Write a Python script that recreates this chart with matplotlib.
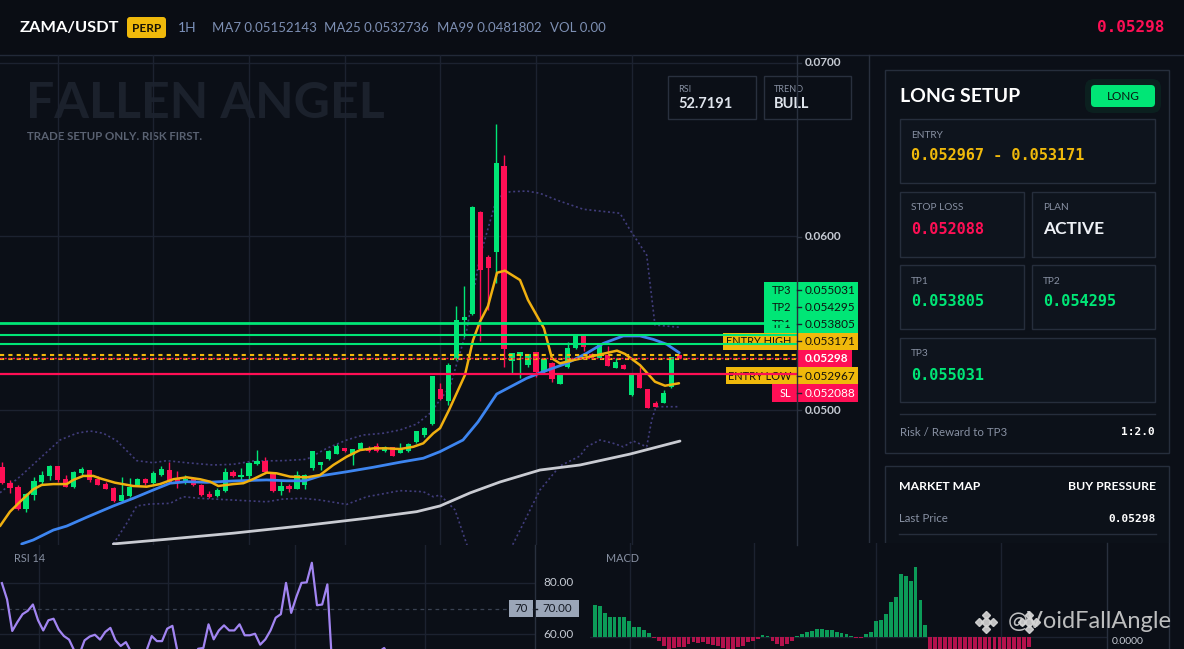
import matplotlib
matplotlib.use("Agg")
import matplotlib.pyplot as plt
from matplotlib.patches import Rectangle, FancyBboxPatch

# ---------------------------------------------------------------- data
symbol = "ZAMA/USDT"
header_items = ["MA7 0.05152143", "MA25 0.0532736", "MA99 0.0481802", "VOL 0.00"]
last_price = 0.05298

opens = [0.04673, 0.04578, 0.04554, 0.04429, 0.04510, 0.04587, 0.04621, 0.04677, 0.04602, 0.04554,
         0.04637, 0.04654, 0.04602, 0.04573, 0.04552, 0.04475, 0.04504, 0.04568, 0.04602, 0.04578,
         0.04625, 0.04654, 0.04602, 0.04578, 0.04602, 0.04568, 0.04516, 0.04504, 0.04535, 0.04644,
         0.04612, 0.04620, 0.04689, 0.04706, 0.04631, 0.04535, 0.04564, 0.04545, 0.04565, 0.04664,
         0.04683, 0.04716, 0.04746, 0.04779, 0.04741, 0.04773, 0.04779, 0.04793, 0.04764, 0.04785,
         0.04754, 0.04765, 0.04817, 0.04856, 0.04919, 0.05119, 0.05054, 0.05292, 0.05519, 0.05553,
         0.06143, 0.05884, 0.05912, 0.06406, 0.05284, 0.05313, 0.05259, 0.05333, 0.05221, 0.05269,
         0.05150, 0.05250, 0.05359, 0.05428, 0.05321, 0.05298, 0.05317, 0.05244, 0.05259, 0.05086,
         0.05202, 0.05119, 0.05039, 0.05042, 0.05131, 0.05317]
highs = [0.04702, 0.04597, 0.04568, 0.04523, 0.04616, 0.04650, 0.04683, 0.04680, 0.04625, 0.04650,
         0.04673, 0.04656, 0.04620, 0.04587, 0.04554, 0.04612, 0.04606, 0.04610, 0.04610, 0.04648,
         0.04677, 0.04702, 0.04648, 0.04625, 0.04606, 0.04572, 0.04535, 0.04549, 0.04664, 0.04654,
         0.04664, 0.04702, 0.04769, 0.04731, 0.04635, 0.04597, 0.04573, 0.04650, 0.04630, 0.04764,
         0.04702, 0.04769, 0.04804, 0.04781, 0.04775, 0.04817, 0.04793, 0.04808, 0.04793, 0.04788,
         0.04808, 0.04812, 0.04881, 0.04904, 0.05198, 0.05154, 0.05269, 0.05599, 0.05715, 0.06176,
         0.06146, 0.05893, 0.06648, 0.06469, 0.05330, 0.05334, 0.05325, 0.05335, 0.05298, 0.05278,
         0.05213, 0.05394, 0.05430, 0.05430, 0.05327, 0.05384, 0.05369, 0.05298, 0.05263, 0.05204,
         0.05250, 0.05121, 0.05052, 0.05115, 0.05307, 0.05323]
lows = [0.04573, 0.04523, 0.04424, 0.04414, 0.04481, 0.04568, 0.04597, 0.04583, 0.04554, 0.04552,
        0.04625, 0.04583, 0.04566, 0.04543, 0.04471, 0.04473, 0.04500, 0.04562, 0.04568, 0.04573,
        0.04620, 0.04581, 0.04552, 0.04573, 0.04562, 0.04506, 0.04495, 0.04497, 0.04529, 0.04616,
        0.04597, 0.04597, 0.04683, 0.04639, 0.04529, 0.04510, 0.04529, 0.04543, 0.04545, 0.04654,
        0.04654, 0.04712, 0.04745, 0.04760, 0.04683, 0.04769, 0.04760, 0.04760, 0.04760, 0.04735,
        0.04750, 0.04760, 0.04812, 0.04846, 0.04912, 0.05058, 0.05029, 0.05288, 0.05423, 0.05548,
        0.05399, 0.05576, 0.05733, 0.05250, 0.05211, 0.05186, 0.05250, 0.05192, 0.05211, 0.05163,
        0.05148, 0.05244, 0.05352, 0.05342, 0.05292, 0.05292, 0.05253, 0.05240, 0.05235, 0.05081,
        0.05125, 0.05011, 0.05016, 0.05039, 0.05125, 0.05298]
closes = [0.04578, 0.04552, 0.04429, 0.04516, 0.04591, 0.04625, 0.04677, 0.04597, 0.04558, 0.04644,
          0.04660, 0.04597, 0.04568, 0.04545, 0.04475, 0.04510, 0.04558, 0.04602, 0.04578, 0.04635,
          0.04660, 0.04587, 0.04587, 0.04602, 0.04568, 0.04510, 0.04500, 0.04539, 0.04644, 0.04620,
          0.04625, 0.04696, 0.04706, 0.04644, 0.04535, 0.04562, 0.04545, 0.04625, 0.04627, 0.04764,
          0.04702, 0.04764, 0.04793, 0.04764, 0.04773, 0.04812, 0.04765, 0.04764, 0.04788, 0.04737,
          0.04779, 0.04804, 0.04879, 0.04898, 0.05196, 0.05065, 0.05259, 0.05519, 0.05538, 0.06172,
          0.05807, 0.05820, 0.06425, 0.05351, 0.05327, 0.05333, 0.05323, 0.05221, 0.05292, 0.05177,
          0.05211, 0.05359, 0.05428, 0.05365, 0.05298, 0.05375, 0.05255, 0.05278, 0.05236, 0.05202,
          0.05128, 0.05013, 0.05019, 0.05096, 0.05304, 0.05298]

# moving averages / bands (candle index, price)
ma7_idx = [-0.25, 1.0, 2.26, 3.93, 4.98, 6.44, 8.12, 8.95, 10.2, 11.46, 12.3, 14.18, 16.47, 18.15, 19.82,
           21.49, 23.17, 24.84, 26.1, 27.14, 29.02, 30.28, 31.53, 33.21, 34.47, 36.14, 38.23, 39.9, 41.57,
           43.25, 44.92, 46.59, 48.27, 49.94, 51.61, 52.86, 54.12, 54.96, 56.09, 58.09, 59.1, 59.97, 60.98,
           62.11, 63.11, 65.0, 66.0, 68.0, 69.0, 70.0, 72.14, 74.15, 77.16, 78.17, 80.05, 81.93, 83.19, 84.94]
ma7_val = [0.04331, 0.04414, 0.04471, 0.04543, 0.04568, 0.04573, 0.04573, 0.04597, 0.04620, 0.04620,
           0.04606, 0.04581, 0.04562, 0.04558, 0.04573, 0.04601, 0.04612, 0.04601, 0.04587, 0.04562,
           0.04573, 0.04578, 0.04602, 0.04639, 0.04635, 0.04616, 0.04612, 0.04625, 0.04683, 0.04731,
           0.04769, 0.04779, 0.04779, 0.04775, 0.04788, 0.04808, 0.04866, 0.04895, 0.05000, 0.05202,
           0.05403, 0.05509, 0.05599, 0.05791, 0.05803, 0.05749, 0.05634, 0.05471, 0.05298, 0.05269,
           0.05292, 0.05311, 0.05342, 0.05323, 0.05259, 0.05163, 0.05140, 0.05154]
ma25_idx = [2.47, 3.93, 6.44, 8.12, 10.63, 13.97, 16.47, 18.98, 21.08, 23.17, 25.68, 29.02, 33.21, 35.72,
            38.02, 39.9, 43.25, 46.59, 49.94, 52.86, 54.96, 57.84, 59.72, 60.73, 62.07, 65.83, 67.92,
            70.85, 73.36, 75.45, 77.95, 80.05, 81.72, 83.4, 84.98]
ma25_val = [0.04228, 0.04251, 0.04308, 0.04331, 0.04382, 0.04447, 0.04491, 0.04539, 0.04578, 0.04587,
            0.04583, 0.04591, 0.04597, 0.04592, 0.04592, 0.04620, 0.04644, 0.04670, 0.04699, 0.04722,
            0.04760, 0.04827, 0.04931, 0.05000, 0.05092, 0.05183, 0.05221, 0.05269, 0.05327, 0.05384,
            0.05427, 0.05427, 0.05407, 0.05379, 0.05330]
ma99_idx = [13.97, 20.67, 29.02, 37.39, 45.76, 52.03, 54.96, 58.72, 62.48, 67.5, 72.52, 78.8, 85.07]
ma99_val = [0.04228, 0.04255, 0.04290, 0.04331, 0.04376, 0.04414, 0.04447, 0.04522, 0.04585, 0.04654,
            0.04683, 0.04746, 0.04821]
bb_up_idx = [-0.25, 2.26, 4.77, 7.28, 9.37, 11.04, 12.71, 14.39, 16.9, 18.98, 20.67, 23.17, 26.51, 29.02,
             31.53, 35.3, 38.23, 40.74, 43.25, 45.33, 47.84, 49.94, 52.03, 53.7, 54.96, 56.21, 58.31,
             59.97, 62.07, 63.74, 65.83, 67.5, 69.6, 72.94, 77.54, 78.8, 80.89, 81.93, 84.98]
bb_up_val = [0.04523, 0.04616, 0.04722, 0.04827, 0.04866, 0.04879, 0.04866, 0.04823, 0.04708, 0.04696,
             0.04708, 0.04696, 0.04683, 0.04687, 0.04706, 0.04708, 0.04716, 0.04779, 0.04827, 0.04856,
             0.04866, 0.04885, 0.04919, 0.04981, 0.05058, 0.05134, 0.05461, 0.05884, 0.06220, 0.06258,
             0.06262, 0.06249, 0.06210, 0.06157, 0.06134, 0.06038, 0.05893, 0.05490, 0.05477]
bb_lo_idx = [13.97, 15.65, 16.9, 18.57, 21.08, 22.75, 24.84, 29.02, 33.21, 35.3, 37.8, 39.9, 43.25,
             45.76, 49.94, 52.86, 54.12, 54.96, 56.84, 58.47, 63.11, 65.0, 67.5, 70.0, 72.52, 73.36,
             75.03, 76.7, 77.95, 79.21, 80.89, 81.52, 82.06, 85.07]
bb_lo_val = [0.04228, 0.04347, 0.04447, 0.04458, 0.04462, 0.04500, 0.04491, 0.04481, 0.04471, 0.04487,
             0.04491, 0.04481, 0.04456, 0.04500, 0.04535, 0.04529, 0.04500, 0.04510, 0.04424, 0.04205,
             0.04135, 0.04308, 0.04539, 0.04677, 0.04735, 0.04788, 0.04827, 0.04808, 0.04788, 0.04821,
             0.04788, 0.04942, 0.05019, 0.05019]

# trade levels
tp3, tp2, tp1 = 0.055031, 0.054295, 0.053805
entry_high, entry_low = 0.053171, 0.052967
stop_loss = 0.052088
price_ticks = [0.05, 0.06, 0.07]

# RSI(14)
rsi = [80.0, 73.6, 61.2, 64.7, 67.8, 69.1, 71.6, 65.4, 61.4, 65.4, 66.0, 61.7, 59.2, 57.8, 53.5,
       52.0, 57.5, 59.0, 59.7, 57.8, 60.8, 62.4, 57.5, 55.3, 56.8, 53.0, 50.0, 51.0, 53.5, 59.2,
       57.2, 57.2, 62.1, 63.2, 53.0, 48.0, 47.0, 50.0, 54.2, 54.5, 63.8, 57.9, 61.4, 63.4, 61.4,
       61.4, 63.8, 59.5, 59.5, 60.1, 55.8, 57.9, 61.4, 66.4, 67.8, 80.1, 68.3, 74.6, 80.1, 80.3,
       88.0, 71.3, 71.6, 79.5, 45.0, 41.0, 39.0, 42.0, 45.0, 47.0, 46.0, 49.0, 51.0, 53.0, 54.5,
       51.0, 48.0, 46.0, 48.0, 45.0, 42.0, 40.0, 43.0, 47.0, 52.0, 52.7]
rsi_ticks = [60, 80]

# MACD histogram
macd_hist = [6.5e-5, 6.3e-5, 4.9e-5, 4.1e-5, 4.1e-5, 4.1e-5, 4.1e-5, 3.3e-5, 2.1e-5, 2.0e-5,
             1.5e-5, 0.9e-5, -0.1e-5, -0.8e-5, -1.7e-5, -2.7e-5, -2.1e-5, -1.9e-5, -1.9e-5, -1.3e-5,
             -1.0e-5, -1.2e-5, -1.0e-5, -1.3e-5, -1.5e-5, -1.8e-5, -2.1e-5, -2.5e-5, -2.7e-5, -2.0e-5,
             -1.7e-5, -1.0e-5, -0.8e-5, -0.3e-5, 0.5e-5, 0.2e-5, -0.8e-5, -1.3e-5, -1.7e-5, -1.3e-5,
             -0.8e-5, 0.3e-5, 0.7e-5, 1.0e-5, 1.3e-5, 1.7e-5, 1.7e-5, 1.5e-5, 1.5e-5, 1.1e-5,
             0.9e-5, 0.7e-5, 0.2e-5, -0.2e-5, -0.2e-5, 0.7e-5, 1.1e-5, 3.3e-5, 3.5e-5, 4.7e-5,
             7.0e-5, 8.1e-5, 12.7e-5, 12.3e-5, 11.3e-5, 14.1e-5, 7.5e-5, 2.5e-5,
             -3.0e-5, -3.3e-5, -3.7e-5, -3.9e-5, -4.0e-5, -4.1e-5, -4.3e-5, -4.4e-5, -4.5e-5, -4.7e-5,
             -4.7e-5, -4.5e-5, -4.4e-5, -4.3e-5, -4.1e-5, -4.0e-5, -3.9e-5, -3.7e-5, -3.3e-5, -3.0e-5,
             -2.0e-5]

watermark_handle = "@VoidFallAngle"

# ---------------------------------------------------------------- style
W, H = 1184, 649
BG = "#0b0f17"
TOPBG = "#0a0d14"
GRID = "#1c2230"
LINE = "#29303e"
GREEN = "#00e676"
RED = "#ff0f55"
YELLOW = "#f0b90b"
GRAY = "#8790a2"
UI = ["Lato", "DejaVu Sans"]
MONO = "DejaVu Sans Mono"

fig = plt.figure(figsize=(W / 100, H / 100), dpi=100, facecolor=BG)


def px_axes(x0, y0, x1, y1, z):
    a = fig.add_axes([x0 / W, 1 - y1 / H, (x1 - x0) / W, (y1 - y0) / H])
    a.set_zorder(z)
    a.patch.set_alpha(0)
    for s in a.spines.values():
        s.set_visible(False)
    a.tick_params(length=0, labelbottom=False, labelleft=False)
    return a


ov = fig.add_axes([0, 0, 1, 1])
ov.set_xlim(0, W)
ov.set_ylim(H, 0)
ov.axis("off")
ov.set_zorder(1)

fg = fig.add_axes([0, 0, 1, 1])
fg.set_xlim(0, W)
fg.set_ylim(H, 0)
fg.axis("off")
fg.set_zorder(8)


def box(a, x0, y0, x1, y1, fc="none", ec=LINE, lw=1.0, z=1):
    a.add_patch(Rectangle((x0, y0), x1 - x0, y1 - y0, facecolor=fc, edgecolor=ec, lw=lw, zorder=z))


# ---------------------------------------------------------------- top bar
box(ov, 0, 0, W, 55, fc=TOPBG, ec="none", z=0)
ov.plot([0, W], [55, 55], color="#222938", lw=1, zorder=1)
ov.text(20, 28, symbol, color="white", fontsize=11.8, fontweight="bold", va="center", family=UI)
ov.add_patch(FancyBboxPatch((127, 17), 39, 21, boxstyle="round,pad=0,rounding_size=3",
                            facecolor=YELLOW, edgecolor="none", zorder=2))
ov.text(146.5, 28, "PERP", color="#1a1405", fontsize=8.5, fontweight="bold", ha="center", va="center",
        family=UI, zorder=3)
ov.text(178, 28, "1H", color="#7d93bd", fontsize=10, va="center", family=UI)
for xx, t in zip([212, 324, 437, 550], header_items):
    ov.text(xx, 28, t, color="#7d8fb3", fontsize=9.5, va="center", family=UI)
ov.text(1164, 28, f"{last_price:.5f}", color=RED, fontsize=11.5, fontweight="bold", family=MONO,
        ha="right", va="center")

# watermark
ov.text(26, 103, "FALLEN ANGEL", color="#1b212c", fontsize=36, fontweight="bold", va="center",
        family=UI, zorder=0.5)
ov.text(27, 137, "TRADE SETUP ONLY. RISK FIRST.", color="#5a6272", fontsize=8.3, fontweight="bold",
        va="center", family=UI, zorder=0.5)

# ---------------------------------------------------------------- main chart
ax = px_axes(0, 55, 797, 545, 2)
ax.set_xlim(-0.25, 99.75)
ax.set_ylim(0.042219, 0.070461)
ax.set_xticks([7, 19, 31, 43, 55, 67, 79])
ax.set_yticks(price_ticks)
ax.grid(True, color=GRID, lw=1)
ax.set_axisbelow(True)

idx = list(range(len(opens)))
cols = [GREEN if c >= o else RED for o, c in zip(opens, closes)]
ax.vlines(idx, lows, highs, colors=cols, lw=1.0, zorder=3)
bottoms = [min(o, c) for o, c in zip(opens, closes)]
heights = [max(abs(c - o), 0.00005) for o, c in zip(opens, closes)]
ax.bar(idx, heights, bottom=bottoms, width=0.66, color=cols, zorder=4)

dot = (0, (1.2, 1.6))
ax.plot(bb_up_idx, bb_up_val, color="#413d7c", lw=1.2, ls=dot, zorder=2)
ax.plot(bb_lo_idx, bb_lo_val, color="#413d7c", lw=1.2, ls=dot, zorder=2)
ax.plot(ma99_idx, ma99_val, color="#c9cbd2", lw=2, zorder=5, solid_capstyle="round")
ax.plot(ma25_idx, ma25_val, color="#3d85f0", lw=2, zorder=5, solid_capstyle="round")
ax.plot(ma7_idx, ma7_val, color="#f0b010", lw=1.8, zorder=6, solid_capstyle="round")

ax.axhline(tp3, color=GREEN, lw=2.0, zorder=7)
ax.axhline(tp2, color=GREEN, lw=1.5, zorder=7)
ax.axhline(tp1, color=GREEN, lw=1.5, zorder=7)
ax.axhline(entry_high, color=YELLOW, lw=1.5, ls=(0, (2, 2)), zorder=7)
ax.axhline(entry_low, color=YELLOW, lw=1.5, ls=(0, (2, 2)), zorder=7)
ax.axhline(last_price, color=RED, lw=1.0, ls=(0, (1.5, 1.5)), zorder=8)
ax.axhline(stop_loss, color=RED, lw=1.6, zorder=7)

# price axis
ov.plot([869, 869], [55, 545], color=LINE, lw=1, zorder=1)
fg.plot([796.5, 796.5], [55, 545], color=LINE, lw=1, zorder=1)
for p, yy in zip(price_ticks, [410, 237, 63]):
    ov.text(805, yy, f"{p:.4f}", color="#c5cad3", fontsize=8.5, fontweight="bold", va="center",
            family=UI)
    ov.plot([797, 801], [yy, yy], color=LINE, lw=1)

# level labels (stacked)
rows = [
    ("TP3", tp3, 764, 858, GREEN, "#0d1410"),
    ("TP2", tp2, 764, 858, GREEN, "#0d1410"),
    ("TP1", tp1, 764, 858, GREEN, "#0d1410"),
    ("ENTRY HIGH", entry_high, 723, 858, YELLOW, "#16120a"),
    (None, last_price, 797, 852, RED, "white"),
    ("ENTRY LOW", entry_low, 726, 858, YELLOW, "#16120a"),
    ("SL", stop_loss, 772, 858, RED, "white"),
]
y0 = 281.5
rh = 17.1
for k, (name, val, xa, xb, col, tc) in enumerate(rows):
    ya = y0 + k * rh
    yc = ya + rh / 2
    box(ov, xa, ya, xb, ya + rh + 0.3, fc=col, ec="none", z=2)
    if name:
        ov.text(791, yc + 0.5, name, color=tc, fontsize=7.9, ha="right", va="center", family=UI, zorder=3)
        ov.text(805, yc + 0.5, f"{val:.6f}", color=tc, fontsize=8.5, ha="left", va="center", family=UI,
                zorder=3)
        fg.plot([797, 801], [yc, yc], color="#1a2230", lw=1)
    else:
        ov.text(805, yc + 0.5, f"{val:.5f}", color=tc, fontsize=8.5, fontweight="bold", ha="left",
                va="center", family=UI, zorder=3)

# RSI / TREND mini boxes
for xa, xb, lab, val in [(668, 756, "RSI", "52.7191"), (764, 851, "TREND", "BULL")]:
    box(ov, xa, 76, xb, 119, fc="none", ec=LINE, z=2)
    ov.text(xa + 10, 89, lab, color=GRAY, fontsize=6.5, va="center", family=UI, zorder=3)
    ov.text(xa + 10, 104, val, color="#dfe4ec", fontsize=10.5, fontweight="bold", va="center",
            family=UI, zorder=3)

# ---------------------------------------------------------------- right panel
box(ov, 885, 70, 1169, 453, fc="#0c1119", ec="#262e3c", z=1)
ov.text(900, 96, "LONG SETUP", color="white", fontsize=14, fontweight="bold", va="center", family=UI,
        zorder=3)
ov.add_patch(FancyBboxPatch((1085, 79), 76, 34, boxstyle="round,pad=0,rounding_size=9",
                            facecolor=GREEN, alpha=0.07, edgecolor="none", zorder=2))
ov.add_patch(FancyBboxPatch((1091, 85), 64, 22, boxstyle="round,pad=0,rounding_size=4",
                            facecolor=GREEN, edgecolor="none", zorder=3))
ov.text(1123, 96.5, "LONG", color="#08170f", fontsize=8.5, ha="center", va="center", family=UI, zorder=4)

cards = [
    (900, 119, 1155, 183, "ENTRY", f"{entry_low:.6f} - {entry_high:.6f}", YELLOW, True),
    (900, 192, 1024, 257, "STOP LOSS", f"{stop_loss:.6f}", RED, True),
    (1032, 192, 1155, 257, "PLAN", "ACTIVE", "#eef1f6", False),
    (900, 265, 1024, 329, "TP1", f"{tp1:.6f}", GREEN, True),
    (1032, 265, 1155, 329, "TP2", f"{tp2:.6f}", GREEN, True),
    (900, 338, 1155, 402, "TP3", f"{tp3:.6f}", GREEN, True),
]
for xa, ya, xb, yb, lab, val, col, mono in cards:
    box(ov, xa, ya, xb, yb, fc="#0e141d", ec="#262e3c", z=2)
    ov.text(xa + 11, ya + 16, lab, color=GRAY, fontsize=7.3, va="center", family=UI, zorder=3)
    if mono:
        ov.text(xa + 11, ya + 37, val, color=col, fontsize=11, fontweight="bold", va="center",
                family=MONO, zorder=3)
    else:
        ov.text(xa + 11, ya + 37, val, color=col, fontsize=12.5, fontweight="bold", va="center",
                family=UI, zorder=3)
ov.plot([900, 1155], [414, 414], color="#262e3c", lw=1, zorder=3)
ov.text(900, 432, "Risk / Reward to TP3", color=GRAY, fontsize=8.3, va="center", family=UI, zorder=3)
ov.text(1155, 432, "1:2.0", color="white", fontsize=8, fontweight="bold", ha="right", va="center",
        family=MONO, zorder=3)

box(ov, 885, 466, 1169, 600, fc="#0c1119", ec="#262e3c", z=1)
ov.text(899, 487, "MARKET MAP", color="white", fontsize=8.8, fontweight="bold", va="center", family=UI,
        zorder=3)
ov.text(1156, 487, "BUY PRESSURE", color="white", fontsize=8.8, fontweight="bold", ha="right",
        va="center", family=UI, zorder=3)
ov.text(899, 519, "Last Price", color=GRAY, fontsize=8.3, va="center", family=UI, zorder=3)
ov.text(1156, 519, f"{last_price:.5f}", color="white", fontsize=8, fontweight="bold", ha="right",
        va="center", family=MONO, zorder=3)
ov.plot([899, 1156], [534, 534], color="#262e3c", lw=1, zorder=3)

# lower panels background
box(ov, 0, 545, 590, H, fc=BG, ec="none", z=4)
box(ov, 590, 543, W, H, fc=BG, ec="none", z=4)

# ---------------------------------------------------------------- RSI panel
ra = px_axes(0, 545, 535, 649, 6)
ra.set_xlim(-0.37, 103.2)
ra.set_ylim(54.1, 95.0)
ra.set_xticks([7.2, 32.2, 56.7, 81.9])
ra.set_yticks(rsi_ticks)
ra.grid(True, color=GRID, lw=1)
ra.set_axisbelow(True)
ra.axhline(70, color="#3a4252", lw=0.9, ls=(0, (3, 3)), zorder=1)
ra.plot(range(len(rsi)), rsi, color="#a285f2", lw=1.6, zorder=3)
fg.text(14, 559, "RSI 14", color=GRAY, fontsize=7.8, va="center", family=UI)
fg.plot([535, 535], [545, H], color=LINE, lw=1)
for v, yy in [(80, 583), (60, 634)]:
    fg.text(543, yy, f"{v:.2f}", color="#c5cad3", fontsize=8.5, va="center", family=UI)
box(fg, 509, 600, 533, 617, fc="#9ba6b8", ec="none", z=2)
box(fg, 536, 600, 579, 617, fc="#9ba6b8", ec="none", z=2)
fg.text(521, 608.5, "70", color="#151a24", fontsize=8.3, ha="center", va="center", family=UI, zorder=3)
fg.text(557.5, 608.5, "70.00", color="#151a24", fontsize=8.3, ha="center", va="center", family=UI, zorder=3)
fg.plot([533, 537], [608.5, 608.5], color="#151a24", lw=1, zorder=3)

# ---------------------------------------------------------------- MACD panel
ma = px_axes(590, 543, 1107, 649, 6)
ma.set_xlim(-0.97, 103.8)
ma.set_ylim(-0.000024, 0.000188)
ma.set_xticks([7.1, 32.3, 57.0, 82.3])
ma.set_yticks([0])
ma.grid(True, color=GRID, lw=1)
ma.set_axisbelow(True)
mcols = ["#0c9b58" if v >= 0 else "#b3124c" for v in macd_hist]
ma.bar(range(len(macd_hist)), macd_hist, width=0.78, color=mcols, zorder=3)
fg.plot([1107, 1107], [543, H], color=LINE, lw=1)
fg.plot([1169, 1169], [543, H], color=LINE, lw=1)
fg.text(606, 559, "MACD", color=GRAY, fontsize=7.8, va="center", family=UI)
fg.text(1112, 641, "0.0000", color="#c5cad3", fontsize=7.5, va="center", family=UI)

# bottom-right watermark: two exchange-style logos and the handle
for lx in (986, 1029):
    fg.plot([lx], [622], marker="D", ms=5.5, color="#d6d6d6", ls="none", alpha=0.9, zorder=6)
    fg.plot([lx - 7, lx + 7, lx, lx], [622, 622, 615, 629], marker="D", ms=3.6, color="#d6d6d6",
            ls="none", alpha=0.9, zorder=6)
fg.text(1008, 621, watermark_handle, color="#d6d6d6", fontsize=17, va="center", family=UI, alpha=0.88,
        zorder=7)

fig.savefig("out.png", dpi=100, facecolor=BG)
